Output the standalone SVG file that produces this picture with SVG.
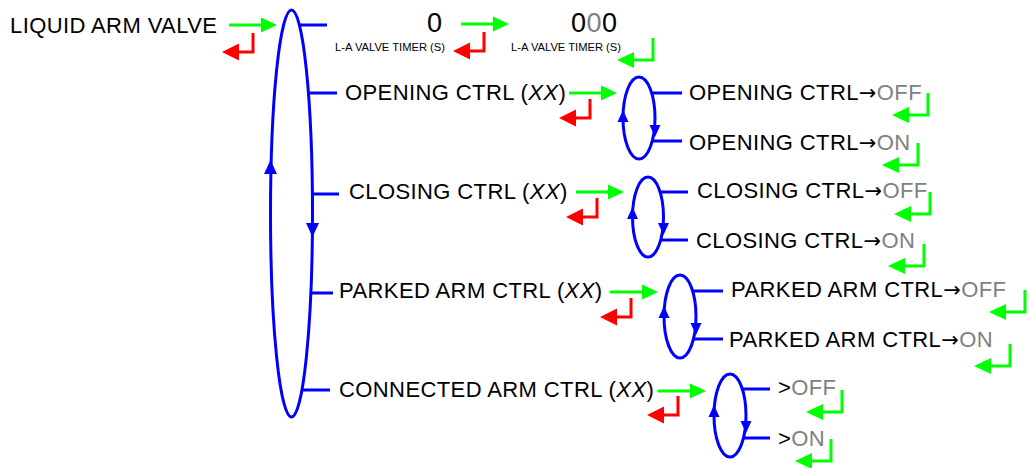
<svg xmlns="http://www.w3.org/2000/svg" xmlns:xlink="http://www.w3.org/1999/xlink" width="1029" height="468" viewBox="0 0 1029 468">
<style>
.t{font-family:"Liberation Sans",Arial,sans-serif;font-size:22px;fill:#000;letter-spacing:0.4px}
.s{font-family:"Liberation Sans",Arial,sans-serif;font-size:11.2px;fill:#000}
.d{font-family:"Liberation Sans",Arial,sans-serif;font-size:27px;fill:#000;letter-spacing:0.5px}
.a{font-family:"DejaVu Sans",sans-serif;font-size:21px}
.g{fill:#808080}
.i{font-style:italic}
.b{fill:none;stroke:#0000FF;stroke-width:3}
.gl{fill:none;stroke:#00FF00;stroke-width:3}
.rl{fill:none;stroke:#FF0000;stroke-width:3}
</style>
<defs>
<g id="gr"><path class="gl" d="M0,0H33"/><polygon points="32,-7.5 48,0 32,7.5" fill="#00FF00"/></g>
<g id="rr"><path class="rl" d="M0,0V19H-15"/><polygon points="-14,10.5 -31,19 -14,27.5" fill="#FF0000"/></g>
<g id="gt"><path class="gl" d="M0,0V22H-20"/><polygon points="-19,14 -36,22 -19,30" fill="#00FF00"/></g>
<polygon id="up" points="0,-6 5.5,6 -5.5,6" fill="#0000FF"/>
<polygon id="dn" points="0,6 5.5,-6 -5.5,-6" fill="#0000FF"/>
<polygon id="upL" points="0,-7 6.5,7 -6.5,7" fill="#0000FF"/>
<polygon id="dnL" points="0,7 6.5,-7 -6.5,-7" fill="#0000FF"/>
</defs>

<g id="connectors">
<ellipse class="b" cx="291.5" cy="213.5" rx="21" ry="203.5"/>
<path class="b" d="M299,25H327M308,93H337M312,194H339M312,293H333M303,390H330"/>
<use xlink:href="#upL" x="270.5" y="167"/>
<use xlink:href="#dnL" x="312.5" y="230"/>

<ellipse class="b" cx="639" cy="118" rx="16" ry="41"/>
<path class="b" d="M652,93H682M652,141H682"/>
<use xlink:href="#up" x="623" y="116"/>
<use xlink:href="#dn" x="655" y="131"/>

<ellipse class="b" cx="648" cy="217" rx="15.5" ry="40"/>
<path class="b" d="M661,192H688M661,240H688"/>
<use xlink:href="#up" x="632.5" y="213"/>
<use xlink:href="#dn" x="663.5" y="229"/>

<ellipse class="b" cx="680" cy="316.5" rx="16" ry="41.5"/>
<path class="b" d="M693,291H723M693,339H723"/>
<use xlink:href="#up" x="664" y="312"/>
<use xlink:href="#dn" x="696" y="329"/>

<ellipse class="b" cx="730" cy="415.5" rx="16" ry="41.5"/>
<path class="b" d="M743,389H770M743,438H770"/>
<use xlink:href="#up" x="714" y="411"/>
<use xlink:href="#dn" x="746" y="427"/>

<use xlink:href="#gr" x="229" y="25"/>
<use xlink:href="#rr" x="253" y="33"/>
<use xlink:href="#gr" x="461" y="24"/>
<use xlink:href="#rr" x="484" y="32"/>
<use xlink:href="#gt" x="653" y="38"/>

<use xlink:href="#gr" x="569" y="93"/>
<use xlink:href="#rr" x="590" y="99"/>
<use xlink:href="#gt" x="928" y="93"/>
<use xlink:href="#gt" x="918" y="143"/>

<use xlink:href="#gr" x="576" y="192"/>
<use xlink:href="#rr" x="597" y="198"/>
<use xlink:href="#gt" x="930" y="192"/>
<use xlink:href="#gt" x="924" y="244"/>

<use xlink:href="#gr" x="610" y="292"/>
<use xlink:href="#rr" x="631" y="298"/>
<use xlink:href="#gt" x="1025" y="290"/>
<use xlink:href="#gt" x="1010" y="344"/>

<use xlink:href="#gr" x="658" y="391"/>
<use xlink:href="#rr" x="678" y="396"/>
<use xlink:href="#gt" x="842" y="390"/>
<use xlink:href="#gt" x="831" y="439"/>
</g>

<g id="liquid-arm-valve"><text class="t" x="10" y="33">LIQUID ARM VALVE</text></g>
<g id="timer-value"><text class="d" x="427" y="32">0</text><text class="s" x="335" y="51">L-A VALVE TIMER (S)</text></g>
<g id="timer-edit"><text class="d" x="571" y="32">0<tspan class="g">0</tspan>0</text><text class="s" x="511" y="51">L-A VALVE TIMER (S)</text></g>

<g id="opening-ctrl"><text class="t" x="345" y="100">OPENING CTRL (<tspan class="i">XX</tspan>)</text></g>
<g id="opening-off"><text class="t" x="689" y="100">OPENING CTRL<tspan class="a">→</tspan><tspan class="g">OFF</tspan></text></g>
<g id="opening-on"><text class="t" x="689" y="150">OPENING CTRL<tspan class="a">→</tspan><tspan class="g">ON</tspan></text></g>

<g id="closing-ctrl"><text class="t" x="349" y="199">CLOSING CTRL (<tspan class="i">XX</tspan>)</text></g>
<g id="closing-off"><text class="t" x="697" y="198">CLOSING CTRL<tspan class="a">→</tspan><tspan class="g">OFF</tspan></text></g>
<g id="closing-on"><text class="t" x="696" y="248">CLOSING CTRL<tspan class="a">→</tspan><tspan class="g">ON</tspan></text></g>

<g id="parked-ctrl"><text class="t" x="339" y="298">PARKED ARM CTRL (<tspan class="i">XX</tspan>)</text></g>
<g id="parked-off"><text class="t" x="731" y="297">PARKED ARM CTRL<tspan class="a">→</tspan><tspan class="g">OFF</tspan></text></g>
<g id="parked-on"><text class="t" x="729" y="347">PARKED ARM CTRL<tspan class="a">→</tspan><tspan class="g">ON</tspan></text></g>

<g id="connected-ctrl"><text class="t" x="339" y="397">CONNECTED ARM CTRL (<tspan class="i">XX</tspan>)</text></g>
<g id="connected-off"><text class="t" x="778" y="395">&gt;<tspan class="g">OFF</tspan></text></g>
<g id="connected-on"><text class="t" x="778" y="446">&gt;<tspan class="g">ON</tspan></text></g>
</svg>
